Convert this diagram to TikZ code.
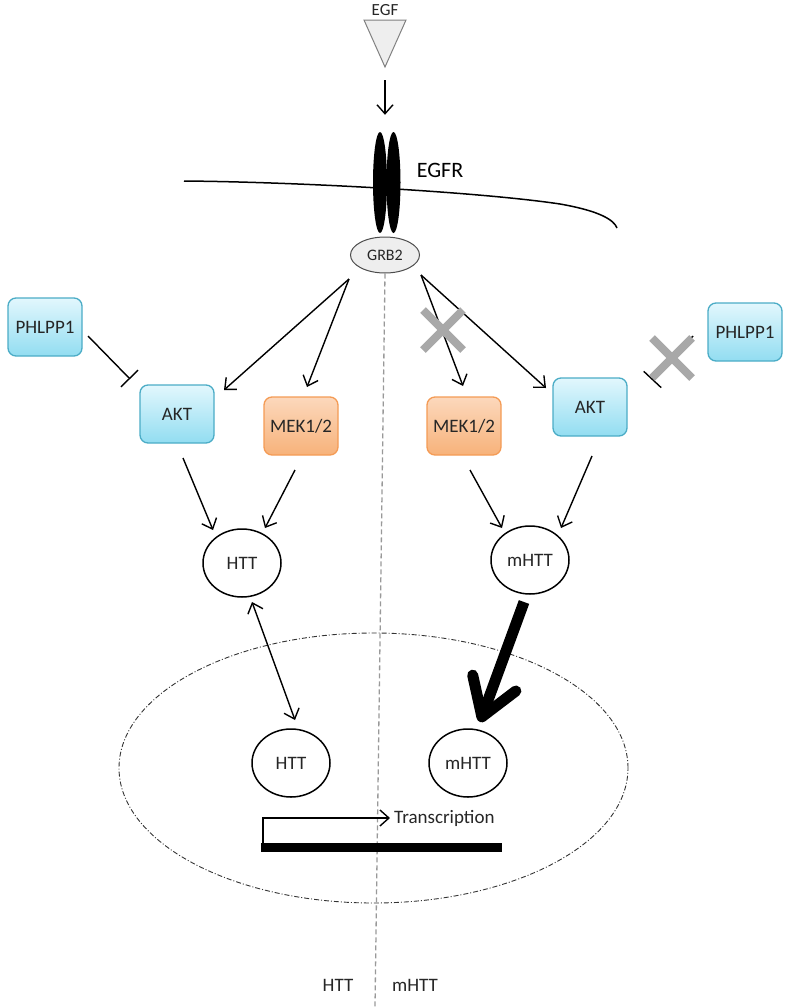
\documentclass[tikz,border=0pt]{standalone}
\usepackage{fontspec}
\setmainfont{Carlito}
\usetikzlibrary{arrows.meta,shapes.geometric,shapes.misc}
\definecolor{aktline}{RGB}{75,172,198}
\definecolor{akttop}{RGB}{226,247,253}
\definecolor{aktbot}{RGB}{146,221,241}
\definecolor{mekline}{RGB}{244,155,85}
\definecolor{mektop}{RGB}{252,216,188}
\definecolor{mekbot}{RGB}{247,178,122}
\definecolor{ligand}{RGB}{238,238,238}
\definecolor{blocked}{RGB}{168,168,168}
\tikzset{
  lbl/.style={font=\fontsize{19}{22}\selectfont, text=black!85},
  kinase/.style={lbl, rectangle, rounded corners=8pt, draw=aktline, line width=1.3pt,
    top color=akttop, bottom color=aktbot, minimum width=74pt, minimum height=58pt, inner sep=0pt},
  mek/.style={kinase, draw=mekline, top color=mektop, bottom color=mekbot},
  prot/.style={lbl, ellipse, draw, line width=1.5pt, minimum width=78pt, minimum height=68pt, inner sep=0pt},
  receptor/.style={ellipse, fill=black, minimum width=14pt, minimum height=101pt, inner sep=0pt},
  act/.style={-{Straight Barb[length=9pt,width=16pt]}, line width=1.4pt},
  dact/.style={{Straight Barb[length=9pt,width=16pt]}-{Straight Barb[length=9pt,width=16pt]}, line width=1.4pt},
  bigact/.style={-{Straight Barb[length=36pt,width=46pt,round]}, line width=11pt},
  inh/.style={-{Bar[width=24pt]}, line width=1.4pt},
  xmark/.style={cross out, draw=blocked, line width=8pt, minimum size=32pt, inner sep=0pt},
  divider/.style={draw=black!40, line width=1.3pt, dash pattern=on 5pt off 3pt},
  nucleus/.style={ellipse, draw=black!80, line width=0.9pt, dash pattern=on 5pt off 2pt on 1pt off 2pt}
}
\begin{document}
\begin{tikzpicture}[x=1pt,y=-1pt]
  \useasboundingbox (0,0) rectangle (789,1007);

  \node[nucleus, minimum width=509pt, minimum height=270pt] (nuc) at (373.5,768) {};
  \draw[line width=1.5pt] (184,181) .. controls (300,182) and (480,192) .. (560,204)
    .. controls (600,211) and (614,220) .. (617,228);

  \node[lbl, font=\fontsize{17}{20}\selectfont] (egf) at (385,10) {EGF};
  \draw[fill=ligand, draw=black!50, line width=1pt] (364,20) -- (406,20) -- (385,67) -- cycle;
  \coordinate (egftip) at (385,67);
  \node[receptor] (egfrL) at (380,182.5) {};
  \node[receptor] (egfrR) at (393.5,182.5) {};
  \node[font=\fontsize{22}{26}\selectfont] (egfrlbl) at (440,170) {EGFR};
  \node[ellipse, draw=black!70, fill=ligand, line width=1pt, minimum width=69pt, minimum height=36pt,
    inner sep=0pt, font=\fontsize{16}{19}\selectfont, text=black!85] (grb2) at (385,255) {GRB2};

  \coordinate (divend) at (375,1007);
  \draw[divider] (grb2.south) -- (divend);

  \node[kinase] (phlppL) at (45,327) {PHLPP1};
  \node[kinase] (aktL) at (177,414) {AKT};
  \node[mek] (mekL) at (301,426) {MEK1/2};
  \node[mek] (mekR) at (464,426) {MEK1/2};
  \node[kinase] (aktR) at (590,407) {AKT};
  \node[kinase] (phlppR) at (745,332) {PHLPP1};

  \node[prot] (httC) at (242,563) {HTT};
  \node[prot] (mhttC) at (530,560) {mHTT};
  \node[prot] (httN) at (291,763) {HTT};
  \node[prot] (mhttN) at (468,763) {mHTT};

  \node[fill=black, minimum width=241pt, minimum height=9.5pt, inner sep=0pt] (gene) at (381.5,847.5) {};
  \node[lbl, anchor=west, inner sep=0pt] (trans) at (394,818) {Transcription};

  \node[lbl] (wtlbl) at (338,985) {HTT};
  \node[lbl] (mutlbl) at (415,985) {mHTT};

  \draw[act] ([shift={(0,13)}]egftip) -- ([shift={(5,-17)}]egfrL.north);
  \draw[act] ([shift={(-36,24)}]grb2.center) -- ([shift={(47,-24)}]aktL.center);
  \draw[act] ([shift={(-36,24)}]grb2.center) -- ([shift={(6,-39)}]mekL.center);
  \draw[act] ([shift={(36,20)}]grb2.center) -- ([shift={(-1,-40)}]mekR.center);
  \draw[act] ([shift={(36,20)}]grb2.center) -- ([shift={(-44,-19)}]aktR.center);
  \draw[inh] ([shift={(43,9)}]phlppL.center) -- ([shift={(-47,-35)}]aktL.center);
  \draw[inh] ([shift={(-52,4)}]phlppR.center) -- ([shift={(62,-27)}]aktR.center);

  \draw[act] ([shift={(6,44)}]aktL.center) -- ([shift={(-29,-33)}]httC.center);
  \draw[act] ([shift={(-6,44)}]mekL.center) -- ([shift={(23,-35)}]httC.center);
  \draw[act] ([shift={(6,44)}]mekR.center) -- ([shift={(-28,-32)}]mhttC.center);
  \draw[act] ([shift={(2,49)}]aktR.center) -- ([shift={(31,-32)}]mhttC.center);

  \draw[dact] ([shift={(10,39)}]httC.center) -- ([shift={(4,-43)}]httN.center);
  \draw[bigact] ([shift={(-6,42)}]mhttC.center) -- ([shift={(12,-41)}]mhttN.center);
  \draw[act] ([shift={(2,0)}]gene.north west) |- ([shift={(-4,0)}]trans.west);

  \node[xmark] (cutMEK) at (443,330) {};
  \node[xmark] (cutPHLPP) at (672,358) {};
\end{tikzpicture}
\end{document}
